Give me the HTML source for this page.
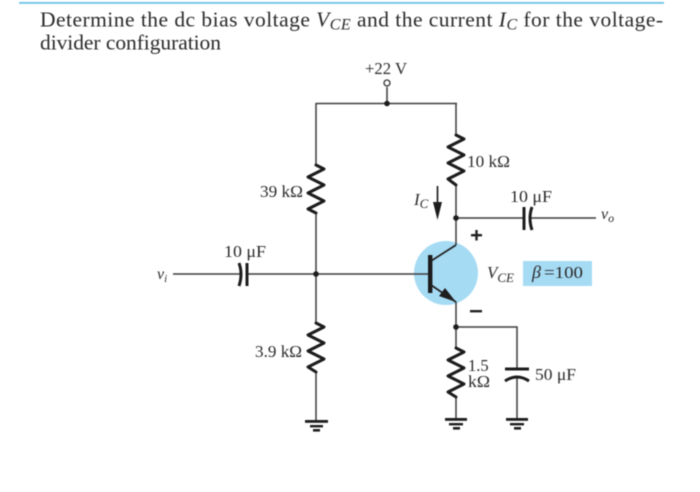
<!DOCTYPE html>
<html><head><meta charset="utf-8"><style>
html,body{margin:0;padding:0;background:#fff;width:700px;height:492px;overflow:hidden}
svg{display:block;filter:blur(0.5px)}
text{font-family:"Liberation Serif",serif;fill:#2a2a2a}
.i{font-style:italic}
</style></head><body>
<svg width="700" height="492" viewBox="0 0 700 492" xmlns="http://www.w3.org/2000/svg">
<rect x="19" y="2" width="645" height="1.8" fill="#6cc3e3"/>
<text x="40" y="26.500" font-size="21.500" textLength="623" lengthAdjust="spacing" xml:space="preserve">Determine the dc bias voltage <tspan class="i">V</tspan><tspan class="i" font-size="16" dy="3">CE</tspan><tspan dy="-3"> and the current </tspan><tspan class="i">I</tspan><tspan class="i" font-size="16" dy="3">C</tspan><tspan dy="-3"> for the voltage-</tspan></text>
<text x="40" y="49.500" font-size="21.500" textLength="181" lengthAdjust="spacing">divider configuration</text>

<ellipse cx="446" cy="273" rx="32" ry="32" fill="#a6dbf4"/>
<rect x="523" y="261" width="69" height="25" fill="#a6dbf4"/>

<g fill="none" stroke="#3c3c3c" stroke-width="1.5">
<path d="M387 87V103M316 103.500H457M316 103V165M316 213V322M316 372V421"/>
<path d="M456 103V135M456 185V245M456 302V348M456 397V419"/>
<path d="M173 274H240M247 274H316M316 274H430"/>
<path d="M456 218H523M531 218H596"/>
<path d="M456 327H517V369M517 378V419"/>
</g>
<circle cx="387" cy="83" r="3" fill="#fff" stroke="#333" stroke-width="1.3"/>
<g fill="#1c1c1c"><circle cx="387" cy="103.500" r="2.800"/><circle cx="316" cy="274" r="2.800"/><circle cx="456" cy="218" r="2.800"/><circle cx="456" cy="327" r="2.800"/></g>

<g fill="none" stroke="#1c1c1c" stroke-width="3" stroke-linejoin="round" stroke-linecap="round">
<path d="M316 165L324 169L308 177L324 185L308 193L324 201L308 209L316 213"/>
<path d="M316 323L324 327L308 335L324 343L308 351L324 359L308 367L316 372"/>
<path d="M456 135L464 139L448 147L464 155L448 163L464 171L448 179L456 185"/>
<path d="M456 348L464 352L448 360L464 368L448 376L464 384L448 392L456 397"/>
</g>

<g fill="none" stroke="#1c1c1c" stroke-width="3">
<path d="M247 263V286"/>
<path d="M239 263Q243 274 239 286"/>
<path d="M524 207V230"/>
<path d="M532 207Q528 218 532 230"/>
<path d="M505 369H529"/>
<path d="M505 381Q517 373 529 381"/>
</g>

<g fill="#1c1c1c">
<rect x="305" y="420" width="23" height="2.800"/><rect x="310" y="425" width="13" height="2.400"/><rect x="313" y="429" width="7" height="2.600"/>
<rect x="445" y="418" width="22" height="2.800"/><rect x="449" y="423" width="14" height="2.400"/><rect x="453" y="427" width="7" height="2.600"/>
<rect x="506" y="418" width="22" height="2.800"/><rect x="510" y="423" width="14" height="2.400"/><rect x="514" y="427" width="7" height="2.600"/>
<rect x="428" y="255" width="4.400" height="38"/>
<path d="M456 302L439 296L445 288Z"/>
<path d="M437.500 220L433 202H442Z"/>
</g>
<g fill="none" stroke="#222" stroke-width="1.7">
<path d="M431 261L456 245M431 285L456 302M437.500 186V205"/>
</g>
<g fill="#222">
<rect x="471" y="234" width="11" height="2.400"/><rect x="475.300" y="230" width="2.400" height="10.500"/>
<rect x="470" y="310" width="12" height="2.400"/>
</g>

<text x="365" y="74" font-size="16.500" textLength="42" lengthAdjust="spacingAndGlyphs">+22 V</text>
<text x="260" y="197" font-size="16.500" textLength="43" lengthAdjust="spacingAndGlyphs">39 kΩ</text>
<text x="224" y="257" font-size="16.500" textLength="42" lengthAdjust="spacingAndGlyphs">10 μF</text>
<text x="255" y="357" font-size="16.500" textLength="47" lengthAdjust="spacingAndGlyphs">3.9 kΩ</text>
<text x="467" y="167" font-size="16.500" textLength="43" lengthAdjust="spacingAndGlyphs">10 kΩ</text>
<text x="510" y="202" font-size="16.500" textLength="42" lengthAdjust="spacingAndGlyphs">10 μF</text>
<text x="535" y="380" font-size="16.500" textLength="41" lengthAdjust="spacingAndGlyphs">50 μF</text>
<text x="468" y="371" font-size="16.500">1.5</text>
<text x="468" y="387" font-size="16.500" textLength="22" lengthAdjust="spacingAndGlyphs">kΩ</text>
<text x="157" y="279" font-size="16" class="i">v<tspan font-size="11" dy="3">i</tspan></text>
<text x="601" y="219" font-size="16" class="i">v<tspan font-size="12" dy="3">o</tspan></text>
<text x="414" y="205" font-size="17" class="i">I<tspan font-size="13" dy="3">C</tspan></text>
<text x="487" y="278" font-size="17" class="i">V<tspan font-size="13" dy="4">CE</tspan></text>
<text x="532" y="278" font-size="18" class="i">β</text>
<text x="544" y="278" font-size="16.500" textLength="39" lengthAdjust="spacingAndGlyphs">=100</text>
</svg>
</body></html>
